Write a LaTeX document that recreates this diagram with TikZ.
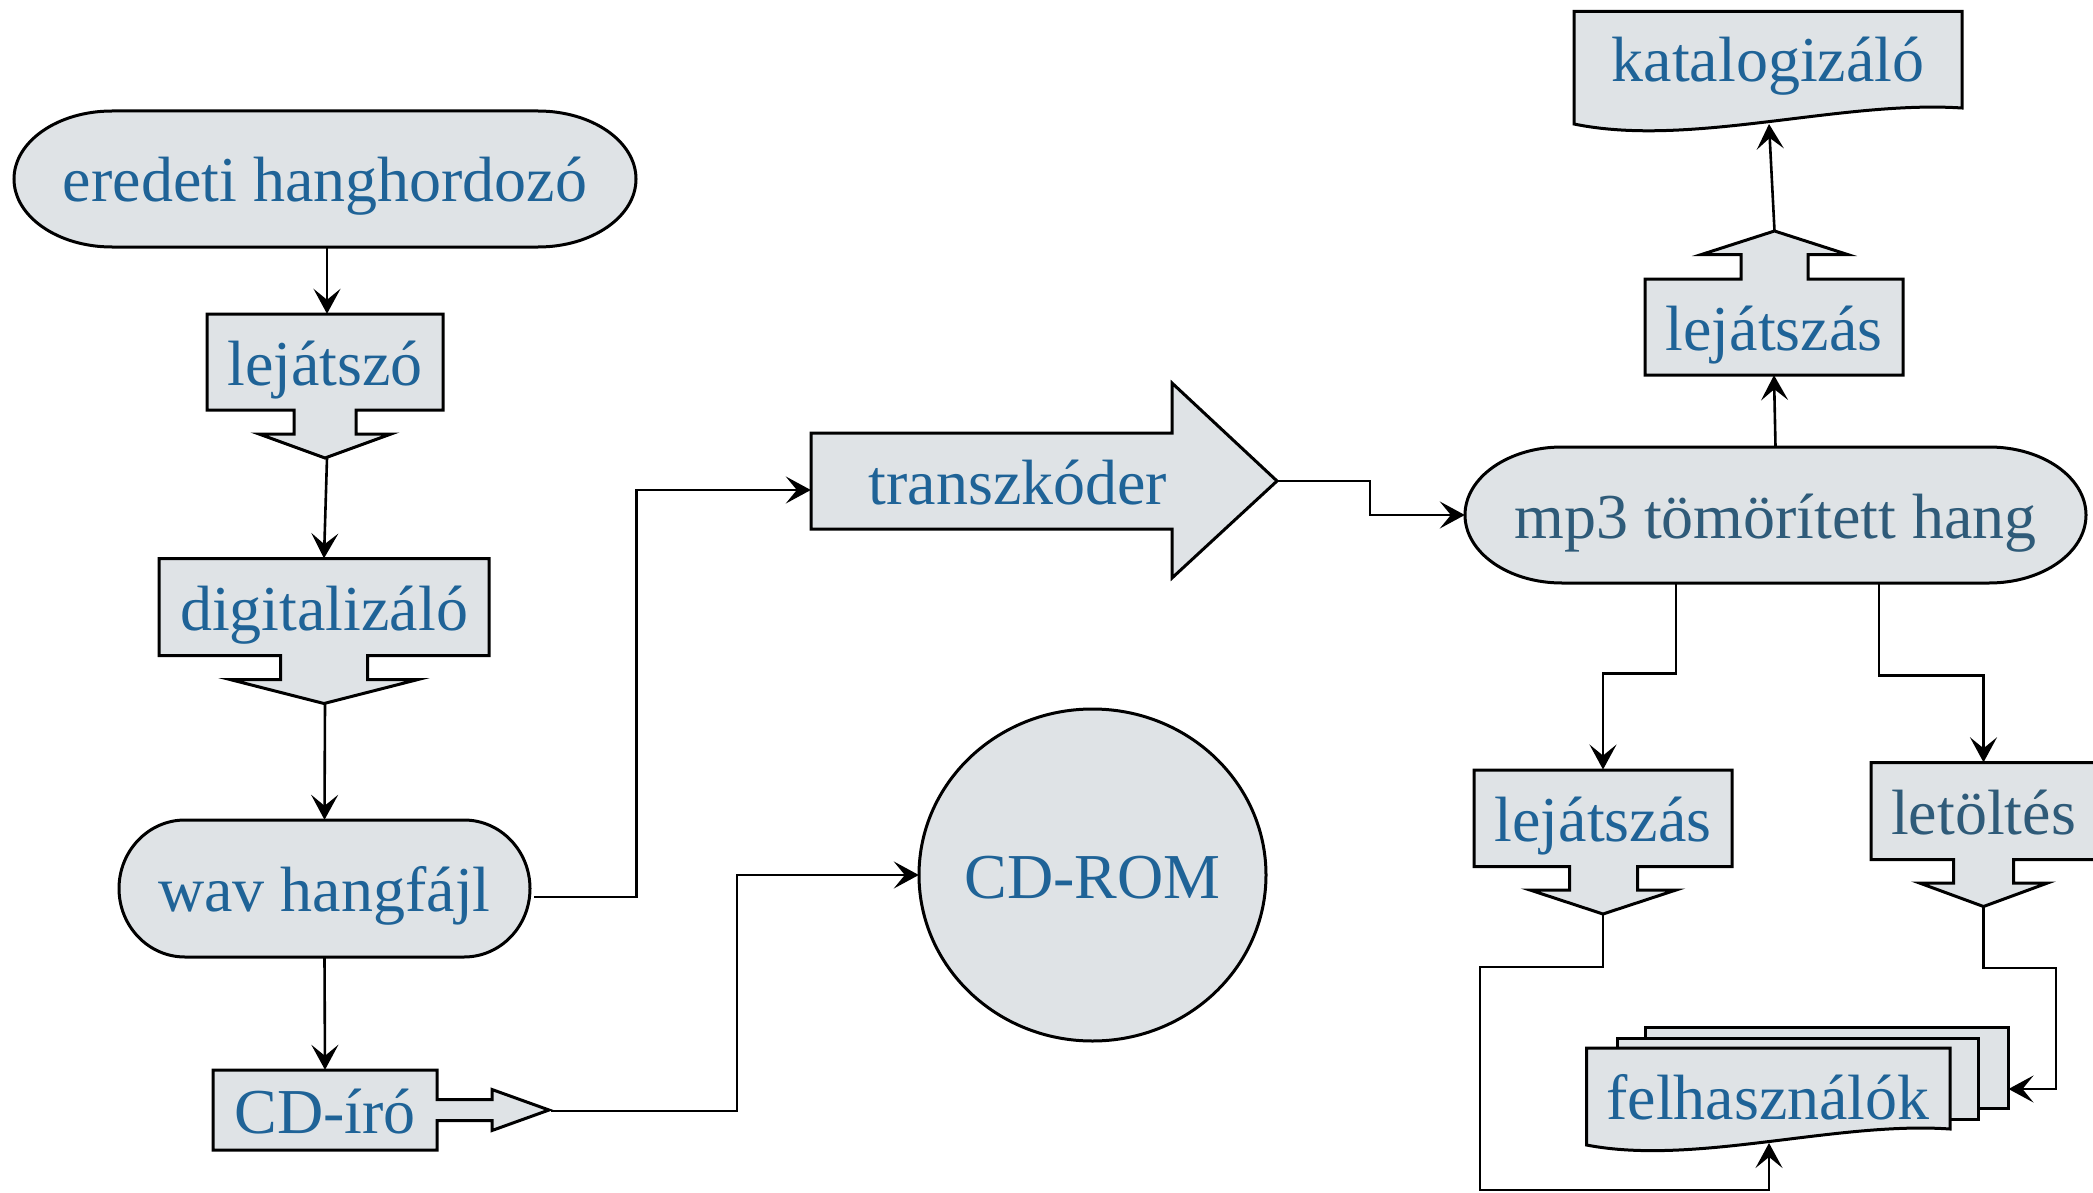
\documentclass[tikz,border=0pt]{standalone}
\usepackage{fontspec}
\setmainfont{Liberation Serif}
\usetikzlibrary{arrows.meta}
\definecolor{fillg}{HTML}{DFE3E6}
\definecolor{tblue}{HTML}{1F6397}
\definecolor{tslate}{HTML}{2F5B79}
\begin{document}
\begin{tikzpicture}[x=1pt,y=-1pt,
  shp/.style={draw=black, fill=fillg, line width=3pt, line join=miter},
  lbl/.style={draw=none, inner sep=0pt, text height=46pt, text depth=0pt,
    font=\fontsize{64}{72}\selectfont, text=tblue},
  con/.style={draw=black, line width=2.6pt, -{Stealth[length=25pt,width=27pt,inset=11pt]}}]
\useasboundingbox (0,0) rectangle (2093,1193);
\fill[white] (0,0) rectangle (2093,1193);

% ---------- shapes ----------
% eredeti hanghordozo (stadium)
\path[shp] (112,111) -- (538,111) arc[start angle=90,end angle=-90,x radius=98pt,y radius=68pt]
  -- (112,247) arc[start angle=270,end angle=90,x radius=98pt,y radius=68pt] -- cycle;
% lejatszo (box with down arrow)
\path[shp] (207,314) -- (443,314) -- (443,410) -- (356,410) -- (356,434) -- (391,434)
  -- (325,458) -- (259,434) -- (294,434) -- (294,410) -- (207,410) -- cycle;
% digitalizalo
\path[shp] (159,558.5) -- (489,558.5) -- (489,655.5) -- (367.5,655.5) -- (367.5,679.5) -- (418,679.5)
  -- (324,703.5) -- (230,679.5) -- (280.5,679.5) -- (280.5,655.5) -- (159,655.5) -- cycle;
% wav hangfajl (stadium)
\path[shp] (185,820) -- (464,820) arc[start angle=90,end angle=-90,x radius=66pt,y radius=68.5pt]
  -- (185,957) arc[start angle=270,end angle=90,x radius=66pt,y radius=68.5pt] -- cycle;
% CD-iro (box with right arrow)
\path[shp] (213,1070) -- (437,1070) -- (437,1099.5) -- (492,1099.5) -- (492,1089.5) -- (549,1110)
  -- (492,1130.5) -- (492,1120.5) -- (437,1120.5) -- (437,1150) -- (213,1150) -- cycle;
% transzkoder (big arrow)
\path[shp] (811,433) -- (1172,433) -- (1172,383) -- (1277,481) -- (1172,578) -- (1172,529)
  -- (811,529) -- cycle;
% CD-ROM (ellipse)
\path[shp] (1092.5,875) ellipse[x radius=173.5pt, y radius=166pt];
% mp3 tomoritett hang (stadium)
\path[shp] (1562,447) -- (1989,447) arc[start angle=90,end angle=-90,x radius=97pt,y radius=68pt]
  -- (1562,583) arc[start angle=270,end angle=90,x radius=97pt,y radius=68pt] -- cycle;
% upper lejatszas (box with up arrow)
\path[shp] (1645,375) -- (1645,279) -- (1741,279) -- (1741,254.5) -- (1701.5,254.5) -- (1774.5,231)
  -- (1847.5,254.5) -- (1808,254.5) -- (1808,279) -- (1903,279) -- (1903,375) -- cycle;
% katalogizalo (document)
\path[shp] (1574,11.5) -- (1962,11.5) -- (1962,108)
  .. controls (1840,100) and (1690,148) .. (1574,124) -- cycle;
% lower lejatszas
\path[shp] (1474,770) -- (1732,770) -- (1732,866.5) -- (1637.5,866.5) -- (1637.5,890) -- (1676,890)
  -- (1603,914) -- (1530,890) -- (1569.5,890) -- (1569.5,866.5) -- (1474,866.5) -- cycle;
% letoltes
\path[shp] (1871,762.5) -- (2096,762.5) -- (2096,859.5) -- (2013.5,859.5) -- (2013.5,883) -- (2047.5,883)
  -- (1983.5,906.5) -- (1919.5,883) -- (1953.5,883) -- (1953.5,859.5) -- (1871,859.5) -- cycle;
% felhasznalok (multi document)
\path[shp] (1645,1027.5) rectangle (2008.5,1108.5);
\path[shp] (1617,1038) rectangle (1978,1119.5);
\path[shp] (1586.5,1048) -- (1950,1048) -- (1950,1129)
  .. controls (1836,1121) and (1695,1166) .. (1586.5,1145) -- cycle;

% ---------- nodes ----------
\node[lbl, minimum width=622pt, minimum height=136pt] (E) at (325,179) {eredeti hanghordozó};
\node[lbl, minimum width=236pt, minimum height=96pt] (L1) at (325,362) {lejátszó};
\node[lbl, minimum width=330pt, minimum height=97pt] (D) at (324,607) {digitalizáló};
\node[lbl, minimum width=411pt, minimum height=137pt] (W) at (324.5,888.5) {wav hangfájl};
\node[lbl, minimum width=224pt, minimum height=80pt] (C) at (325,1110) {CD-író};
\node[lbl, minimum width=361pt, minimum height=96pt] (T) at (991.5,481) {\hspace*{53pt}transzkóder};
\node[lbl, minimum width=347pt, minimum height=332pt] (R) at (1092.5,875) {CD-ROM};
\node[lbl, text=tslate, minimum width=621pt, minimum height=136pt] (M) at (1775.5,515) {mp3 tömörített hang};
\node[lbl, minimum width=258pt, minimum height=96pt] (U) at (1774,327) {lejátszás};
\node[lbl, minimum width=388pt, minimum height=95pt] (K) at (1768,59) {katalogizáló};
\node[lbl, minimum width=258pt, minimum height=96.5pt] (L2) at (1603,818) {lejátszás};
\node[lbl, text=tslate, minimum width=225pt, minimum height=97pt] (Ld) at (1983.5,811) {letöltés};
\node[lbl, minimum width=363pt, minimum height=97pt] (F) at (1768,1096.5) {felhasználók};

% ---------- connector end points ----------
\coordinate (L1tip) at (327,458);
\coordinate (Dtip) at (325,703.5);
\coordinate (Ctip) at (551,1111);
\coordinate (Ttip) at (1277,481);
\coordinate (Utip) at (1774.5,231);
\coordinate (Kb) at (1769,124);
\coordinate (L2tip) at (1603,914);
\coordinate (Ldtip) at (1983.5,906.5);
\coordinate (Fb) at (1769,1143);
\coordinate (Fbot) at (1769,1190);
\coordinate (Fr) at (2008.5,1089);

% ---------- connectors ----------
\draw[con] ([xshift=2pt]E.south) -- ([xshift=2pt]L1.north);
\draw[con] (L1tip) -- (D.north);
\draw[con] (Dtip) -- (W.north);
\draw[con] (W.south) -- (C.north);
\draw[con] ([shift={(4,8.5)}]W.east) -- ++(102,0) |- ([shift={(0,9)}]T.west);
\draw[con] (Ctip) -- ++(186,0) |- (R.west);
\draw[con] (Ttip) -- ++(93,0) |- (M.west);
\draw[con] (M.north) -- (U.south);
\draw[con] (Utip) -- (Kb);
\draw[con] ([xshift=-99.5pt]M.south) -- ++(0,90) -| (L2.north);
\draw[con] ([xshift=103.5pt]M.south) -- ++(0,92) -| (Ld.north);
\draw[con] (L2tip) -- ++(0,53) -- ++(-123,0) |- (Fbot) -- (Fb);
\draw[con] (Ldtip) -- ++(0,61.5) -- ++(72.5,0) |- (Fr);
\end{tikzpicture}
\end{document}
